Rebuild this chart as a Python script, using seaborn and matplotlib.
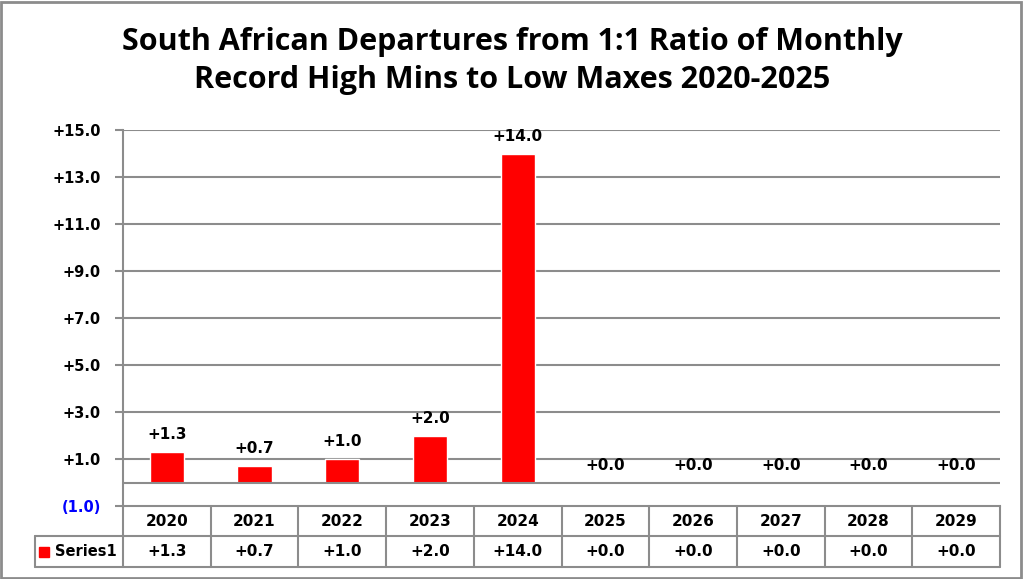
import matplotlib
matplotlib.use("Agg")
import matplotlib.pyplot as plt
import matplotlib.patches as mpatches
import seaborn as sns
import pandas as pd

# data
years = ["2020", "2021", "2022", "2023", "2024", "2025", "2026", "2027", "2028", "2029"]
values = [1.3, 0.7, 1.0, 2.0, 14.0, 0.0, 0.0, 0.0, 0.0, 0.0]
series_name = "Series1"
y_ticks = [-1, 1, 3, 5, 7, 9, 11, 13, 15]

df = pd.DataFrame({"year": years, "value": values})


def fmt(v):
    if v < 0:
        return "({:.1f})".format(abs(v))
    return "+{:.1f}".format(v)


sns.set_style("white")
plt.rcParams["font.family"] = ["DejaVu Sans"]
plt.rcParams["text.color"] = "black"
plt.rcParams["ytick.labelcolor"] = "black"

grey = "#8c8c8c"
fig = plt.figure(figsize=(10.24, 5.79), dpi=100)
ax = fig.add_axes([123 / 1024, 1 - 506 / 579, 877 / 1024, 376 / 579])

sns.barplot(data=df, x="year", y="value", color="#ff0000", width=0.39,
            saturation=1, ax=ax, zorder=3)

ax.set_xlim(-0.5, len(years) - 0.5)
ax.set_ylim(-1, 15)
ax.set_yticks(y_ticks)
ax.set_yticklabels([fmt(t) for t in y_ticks], fontsize=10.5, fontweight="bold")
for lbl, t in zip(ax.get_yticklabels(), y_ticks):
    lbl.set_color("#0000ff" if t < 0 else "black")
ax.tick_params(axis="y", length=6, width=1.5, color=grey, pad=10, left=True)
ax.set_xticks([])
ax.set_xlabel("")
ax.set_ylabel("")

# gridlines
for t in y_ticks[1:]:
    ax.axhline(t, color=grey, lw=1.5, zorder=1)
ax.axhline(0, color=grey, lw=1.5, zorder=4)

for s in ["top", "right"]:
    ax.spines[s].set_visible(False)
ax.spines["left"].set_color(grey)
ax.spines["left"].set_linewidth(1.5)
ax.spines["bottom"].set_color(grey)
ax.spines["bottom"].set_linewidth(1.5)

# value labels
ax.bar_label(ax.containers[0], labels=[fmt(v) for v in values],
             padding=7, fontsize=11, fontweight="bold", color="black")

# data table below the axis
tr = ax.get_xaxis_transform()
r1 = -30 / 376
r2 = -61 / 376
n = len(years)
line_kw = dict(color=grey, lw=1.5, transform=tr, clip_on=False)
ax.plot([-0.5, -0.5], [0, r2], **line_kw)
for i in range(n):
    ax.plot([i + 0.5, i + 0.5], [0, r2], **line_kw)
ax.plot([-1.5, n - 0.5], [r1, r1], **line_kw)
ax.plot([-1.5, n - 0.5], [r2, r2], **line_kw)
ax.plot([-1.5, -1.5], [r1, r2], **line_kw)
for i, (yr, v) in enumerate(zip(years, values)):
    ax.text(i, r1 / 2, yr, transform=tr, ha="center", va="center",
            fontsize=11, fontweight="bold")
    ax.text(i, (r1 + r2) / 2, fmt(v), transform=tr, ha="center", va="center",
            fontsize=11, fontweight="bold")
ax.plot([-1.4], [(r1 + r2) / 2], marker="s", color="#ff0000", ms=7,
        transform=tr, clip_on=False)
ax.text(-1.27, (r1 + r2) / 2, series_name, transform=tr, ha="left", va="center",
        fontsize=10.5, fontweight="bold")

# title
title_font = ["Open Sans", "DejaVu Sans"]
fig.text(0.5, 1 - 42 / 579, "South African Departures from 1:1 Ratio of Monthly",
         ha="center", va="center", fontsize=22, fontweight="bold", family=title_font)
fig.text(0.5, 1 - 80 / 579, "Record High Mins to Low Maxes 2020-2025",
         ha="center", va="center", fontsize=22, fontweight="bold", family=title_font)

# outer frame
fig.add_artist(mpatches.Rectangle((1 / 1024, 1 / 579), 1020 / 1024, 576 / 579,
                                  transform=fig.transFigure, fill=False,
                                  edgecolor=grey, lw=2))

fig.savefig("out.png", dpi=100)
